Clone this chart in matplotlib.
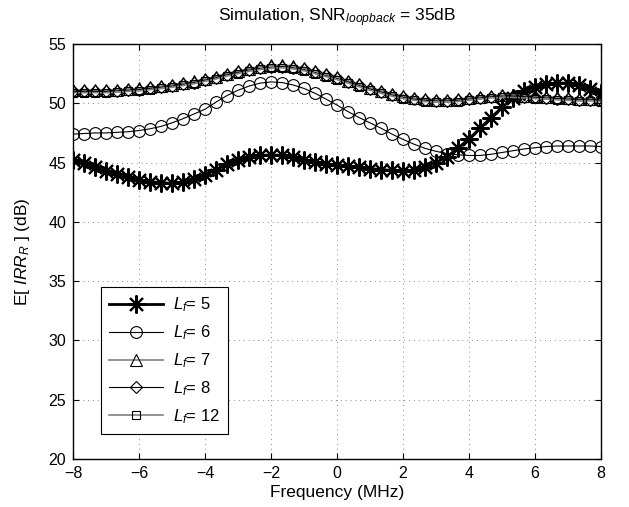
import numpy as np
import matplotlib
matplotlib.use("Agg")
import matplotlib.pyplot as plt

plt.rcParams['font.family'] = ['Liberation Sans', 'DejaVu Sans']
plt.rcParams['mathtext.fontset'] = 'custom'
plt.rcParams['mathtext.rm'] = 'Liberation Sans'
plt.rcParams['mathtext.it'] = 'Liberation Sans:italic'
plt.rcParams['axes.unicode_minus'] = True

# frequency grid (MHz)
freq = np.linspace(-8, 8, 49)

# E[IRR_R] (dB) per filter length
irr_lf5 = [45.25, 44.95, 44.6, 44.3, 44.0, 43.75, 43.55, 43.4, 43.3, 43.25,
           43.35, 43.6, 43.95, 44.4, 44.85, 45.2, 45.45, 45.6, 45.65, 45.6,
           45.45, 45.25, 45.05, 44.9, 44.8, 44.7, 44.6, 44.5, 44.4, 44.35,
           44.3, 44.35, 44.6, 45.0, 45.5, 46.2, 47.0, 47.9, 48.8, 49.65,
           50.45, 51.0, 51.4, 51.6, 51.7, 51.7, 51.5, 51.2, 50.85]
irr_lf6 = [47.4, 47.45, 47.5, 47.5, 47.55, 47.6, 47.7, 47.85, 48.05, 48.35,
           48.7, 49.1, 49.5, 50.1, 50.65, 51.1, 51.45, 51.7, 51.8, 51.75,
           51.55, 51.25, 50.85, 50.35, 49.85, 49.3, 48.8, 48.35, 47.9, 47.4,
           46.95, 46.55, 46.2, 45.95, 45.75, 45.65, 45.6, 45.6, 45.7, 45.85,
           46.0, 46.15, 46.25, 46.35, 46.4, 46.4, 46.4, 46.4, 46.35]
irr_lf7 = [51.1, 51.1, 51.1, 51.1, 51.15, 51.2, 51.25, 51.35, 51.45, 51.55,
           51.7, 51.85, 52.05, 52.25, 52.5, 52.7, 52.9, 53.1, 53.2, 53.25,
           53.15, 53.0, 52.75, 52.5, 52.25, 51.9, 51.6, 51.3, 51.05, 50.8,
           50.6, 50.45, 50.35, 50.3, 50.3, 50.35, 50.45, 50.55, 50.65, 50.7,
           50.7, 50.65, 50.6, 50.55, 50.5, 50.45, 50.4, 50.4, 50.35]
irr_lf8 = [51.0, 51.0, 51.0, 51.0, 51.05, 51.1, 51.15, 51.25, 51.35, 51.45,
           51.6, 51.75, 51.95, 52.15, 52.4, 52.6, 52.8, 52.95, 53.05, 53.1,
           53.0, 52.85, 52.6, 52.35, 52.1, 51.8, 51.5, 51.2, 50.95, 50.7,
           50.5, 50.35, 50.25, 50.2, 50.2, 50.25, 50.35, 50.45, 50.55, 50.6,
           50.6, 50.55, 50.5, 50.45, 50.4, 50.35, 50.3, 50.3, 50.25]
irr_lf12 = [50.9, 50.9, 50.9, 50.9, 50.95, 51.0, 51.05, 51.15, 51.25, 51.35,
            51.5, 51.65, 51.85, 52.05, 52.3, 52.5, 52.7, 52.85, 52.95, 53.0,
            52.9, 52.75, 52.5, 52.25, 52.0, 51.7, 51.4, 51.1, 50.85, 50.6,
            50.4, 50.25, 50.15, 50.1, 50.1, 50.15, 50.25, 50.35, 50.45, 50.5,
            50.5, 50.45, 50.4, 50.35, 50.3, 50.25, 50.2, 50.2, 50.15]

labels = [r'$L_f$= 5', r'$L_f$= 6', r'$L_f$= 7', r'$L_f$= 8', r'$L_f$= 12']

fig = plt.figure(figsize=(6.29, 5.07), dpi=100)
ax = fig.add_axes([73 / 629, 1 - 459 / 507, 528 / 629, 415 / 507])

gray = '0.5'
ax.plot(freq, irr_lf5, color='k', lw=2, marker=(8, 2, 0), ms=13, mew=1.5,
        label=labels[0])
ax.plot(freq, irr_lf6, color='k', lw=0.8, marker='o', ms=8.5, mfc='none',
        mec='k', mew=0.8, label=labels[1])
ax.plot(freq, irr_lf7, color=gray, lw=1.2, marker='^', ms=9, mfc='none',
        mec='k', mew=0.8, label=labels[2])
ax.plot(freq, irr_lf8, color='k', lw=0.8, marker='D', ms=6.5, mfc='none',
        mec='k', mew=0.8, label=labels[3])
ax.plot(freq, irr_lf12, color=gray, lw=1.2, marker='s', ms=5.5, mfc='none',
        mec='k', mew=0.8, label=labels[4])

ax.set_xlim(-8, 8)
ax.set_ylim(20, 55)
ax.set_xticks(np.arange(-8, 9, 2))
ax.set_yticks(np.arange(20, 56, 5))
ax.tick_params(direction='in', top=True, right=True, length=4, width=0.8,
               labelsize=11.5, pad=5)
ax.grid(True, color='0.55', linestyle=(0, (1, 4)), lw=0.7)
for s in ax.spines.values():
    s.set_linewidth(1.0)

ax.set_xlabel('Frequency (MHz)', fontsize=12.5, labelpad=3)
ax.set_ylabel('E[ $IRR_R$ ] (dB)', fontsize=12.5, labelpad=12)
ax.set_title('Simulation, SNR$_{loopback}$ = 35dB', fontsize=12.5, pad=16)

leg = ax.legend(loc='lower left', bbox_to_anchor=(0.053, 0.06),
                borderaxespad=0, fontsize=12, fancybox=False,
                edgecolor='k', framealpha=1, handlelength=3.2,
                handletextpad=0.6, labelspacing=0.55, borderpad=0.5)
leg.get_frame().set_linewidth(0.8)

fig.savefig('out.png', dpi=100)
